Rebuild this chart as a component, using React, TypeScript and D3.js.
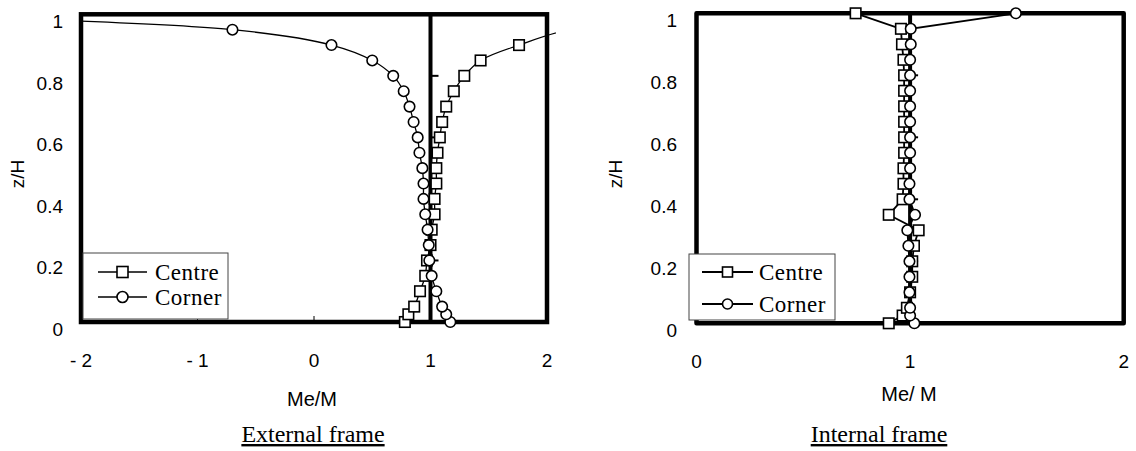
import * as d3 from "d3";

// storey levels z/H shared by both frames
const zLevels = [0, 0.025, 0.05, 0.1, 0.15, 0.2, 0.25, 0.3, 0.35, 0.4, 0.45, 0.5, 0.55, 0.6, 0.65, 0.7, 0.75, 0.8, 0.85, 0.9, 0.95, 1.0];

// Me/M, external frame (last points run off the plot and get clipped)
const extCentre = [0.78, 0.81, 0.86, 0.91, 0.955, 0.97, 1.0, 1.01, 1.035, 1.035, 1.05, 1.05, 1.06, 1.08, 1.1, 1.135, 1.2, 1.29, 1.43, 1.76, 2.19, 3.5];
const extCorner = [1.17, 1.135, 1.1, 1.05, 1.01, 0.99, 0.985, 0.975, 0.955, 0.94, 0.94, 0.93, 0.905, 0.89, 0.855, 0.82, 0.77, 0.68, 0.5, 0.15, -0.7, -3.8];

// Me/M, internal frame
const intCentre = [0.9, 0.965, 0.985, 1.0, 1.01, 1.01, 1.018, 1.04, 0.9, 0.965, 0.969, 0.969, 0.972, 0.972, 0.972, 0.972, 0.972, 0.972, 0.969, 0.962, 0.957, 0.745];
const intCorner = [1.02, 1.0, 1.0, 0.997, 0.997, 0.997, 0.992, 0.987, 1.023, 0.997, 0.997, 1.0, 1.0, 1.0, 1.0, 1.0, 1.0, 1.0, 1.0, 1.003, 1.003, 1.495];

const yTicks = [0, 0.2, 0.4, 0.6, 0.8, 1];
const yTickLabels = ["0", "0.2", "0.4", "0.6", "0.8", "1"];
const extXTicks = [-2, -1, 0, 1, 2];
const extXTickLabels = ["- 2", "- 1", "0", "1", "2"];
const intXTicks = [0, 1, 2];
const intXTickLabels = ["0", "1", "2"];
const legendNames = ["Centre", "Corner"];

const SANS = "'Liberation Sans', Arial, sans-serif";
const SERIF = "'Liberation Serif', 'Times New Roman', serif";

function Marker(props) {
  const { kind, x, y, size } = props;
  if (kind === "square") {
    return (
      <rect x={x - size / 2} y={y - size / 2} width={size} height={size}
        fill="white" stroke="black" strokeWidth={1.6} />
    );
  }
  return <circle cx={x} cy={y} r={size / 2} fill="white" stroke="black" strokeWidth={1.6} />;
}

function Panel(props) {
  const {
    id, xDomain, xRange, yRange, xTicks, xTickLabels, series, curve, lineWidth,
    legend, yLabelX, yTitleX, xTitle, xTitleX, xTitleY, caption, captionX, clipRight, join,
  } = props;

  let xScale = d3.scaleLinear().domain(xDomain).range(xRange);
  let yScale = d3.scaleLinear().domain([0, 1]).range(yRange);

  let line = d3.line()
    .x((d) => xScale(d[0]))
    .y((d) => yScale(d[1]))
    .curve(curve);

  const [left, right] = xRange;
  const [bottom, top] = yRange;
  const mid = xScale(1);

  return (
    <g>
      <defs>
        <clipPath id={id}>
          <rect x={left} y={0} width={clipRight - left} height={bottom + 12} />
        </clipPath>
      </defs>

      {/* the frame drawn over the plot */}
      <rect x={left} y={top} width={right - left} height={bottom - top}
        fill="none" stroke="black" strokeWidth={4.5} strokeLinejoin={join} />
      <line x1={mid} x2={mid} y1={top} y2={bottom} stroke="black" strokeWidth={4} />
      {yTicks.slice(1, 5).map((t) => (
        <line key={t} x1={mid} x2={mid + 8} y1={yScale(t)} y2={yScale(t)} stroke="black" strokeWidth={2} />
      ))}
      {xTicks.map((t) => (
        <line key={t} x1={xScale(t)} x2={xScale(t)} y1={bottom} y2={bottom - 6} stroke="black" strokeWidth={1} />
      ))}

      {/* y axis labels */}
      {yTicks.map((t, i) => (
        <text key={t} x={yLabelX} y={yScale(t) + 7.5} textAnchor="end" dominantBaseline="central"
          fontFamily={SANS} fontSize={19}>
          {yTickLabels[i]}
        </text>
      ))}
      <text transform={`translate(${yTitleX},${174}) rotate(-90)`} textAnchor="middle"
        dominantBaseline="central" fontFamily={SANS} fontSize={19}>
        z/H
      </text>

      {/* x axis labels */}
      {xTicks.map((t, i) => (
        <text key={t} x={xScale(t)} y={bottom + 38} textAnchor="middle" dominantBaseline="central"
          fontFamily={SANS} fontSize={19}>
          {xTickLabels[i]}
        </text>
      ))}
      <text x={xTitleX} y={xTitleY} textAnchor="middle" dominantBaseline="central"
        fontFamily={SANS} fontSize={20}>
        {xTitle}
      </text>
      <text x={captionX} y={442} textAnchor="middle" fontFamily={SERIF} fontSize={24}
        textDecoration="underline">
        {caption}
      </text>

      {/* data */}
      <g clipPath={`url(#${id})`}>
        {series.map((s) => (
          <path key={s.name} d={line(s.values.map((v, i) => [v, zLevels[i]]))}
            fill="none" stroke="black" strokeWidth={lineWidth} />
        ))}
        {series.map((s) =>
          s.values.map((v, i) => (
            <Marker key={s.name + i} kind={s.marker} x={xScale(v)} y={yScale(zLevels[i])} size={10.5} />
          ))
        )}
      </g>

      {/* legend */}
      <rect x={legend.x} y={legend.y} width={legend.w} height={legend.h}
        fill="white" stroke="#444" strokeWidth={1} />
      {series.map((s, i) => {
        const ly = legend.rows[i];
        return (
          <g key={s.name}>
            <line x1={legend.lineX0} x2={legend.lineX1} y1={ly} y2={ly} stroke="black" strokeWidth={legend.lw} />
            <Marker kind={s.marker} x={(legend.lineX0 + legend.lineX1) / 2} y={ly} size={legend.ms} />
            <text x={legend.textX} y={ly} dominantBaseline="central" fontFamily={SERIF}
              fontSize={23} letterSpacing={0.5}>
              {legendNames[i]}
            </text>
          </g>
        );
      })}
    </g>
  );
}

export default function App() {
  return (
    <svg width={1136} height={451} style={{ position: "absolute", left: 0, top: 0, background: "white" }}>
      <Panel
        id="clipExt"
        xDomain={[-2, 2]}
        xRange={[81, 547]}
        yRange={[322, 14.3]}
        xTicks={extXTicks}
        xTickLabels={extXTickLabels}
        series={[
          { name: "Centre", values: extCentre, marker: "square" },
          { name: "Corner", values: extCorner, marker: "circle" },
        ]}
        curve={d3.curveCatmullRom.alpha(0.5)}
        lineWidth={1.3}
        legend={{ x: 83, y: 253, w: 145, h: 66, rows: [272, 297], lineX0: 98, lineX1: 147, textX: 155, lw: 1.3, ms: 11 }}
        yLabelX={63}
        yTitleX={17}
        xTitle="Me/M"
        xTitleX={312}
        xTitleY={399}
        caption="External frame"
        captionX={313}
        clipRight={556}
        join="miter"
      />
      <Panel
        id="clipInt"
        xDomain={[0, 2]}
        xRange={[696.5, 1123.7]}
        yRange={[323.3, 13.3]}
        xTicks={intXTicks}
        xTickLabels={intXTickLabels}
        series={[
          { name: "Centre", values: intCentre, marker: "square" },
          { name: "Corner", values: intCorner, marker: "circle" },
        ]}
        curve={d3.curveLinear}
        lineWidth={1.8}
        legend={{ x: 689, y: 254, w: 146, h: 66, rows: [272, 304], lineX0: 702, lineX1: 753, textX: 759, lw: 2, ms: 10 }}
        yLabelX={677}
        yTitleX={615}
        xTitle="Me/ M"
        xTitleX={909}
        xTitleY={394}
        caption="Internal frame"
        captionX={879}
        clipRight={1130}
        join="round"
      />
    </svg>
  );
}
